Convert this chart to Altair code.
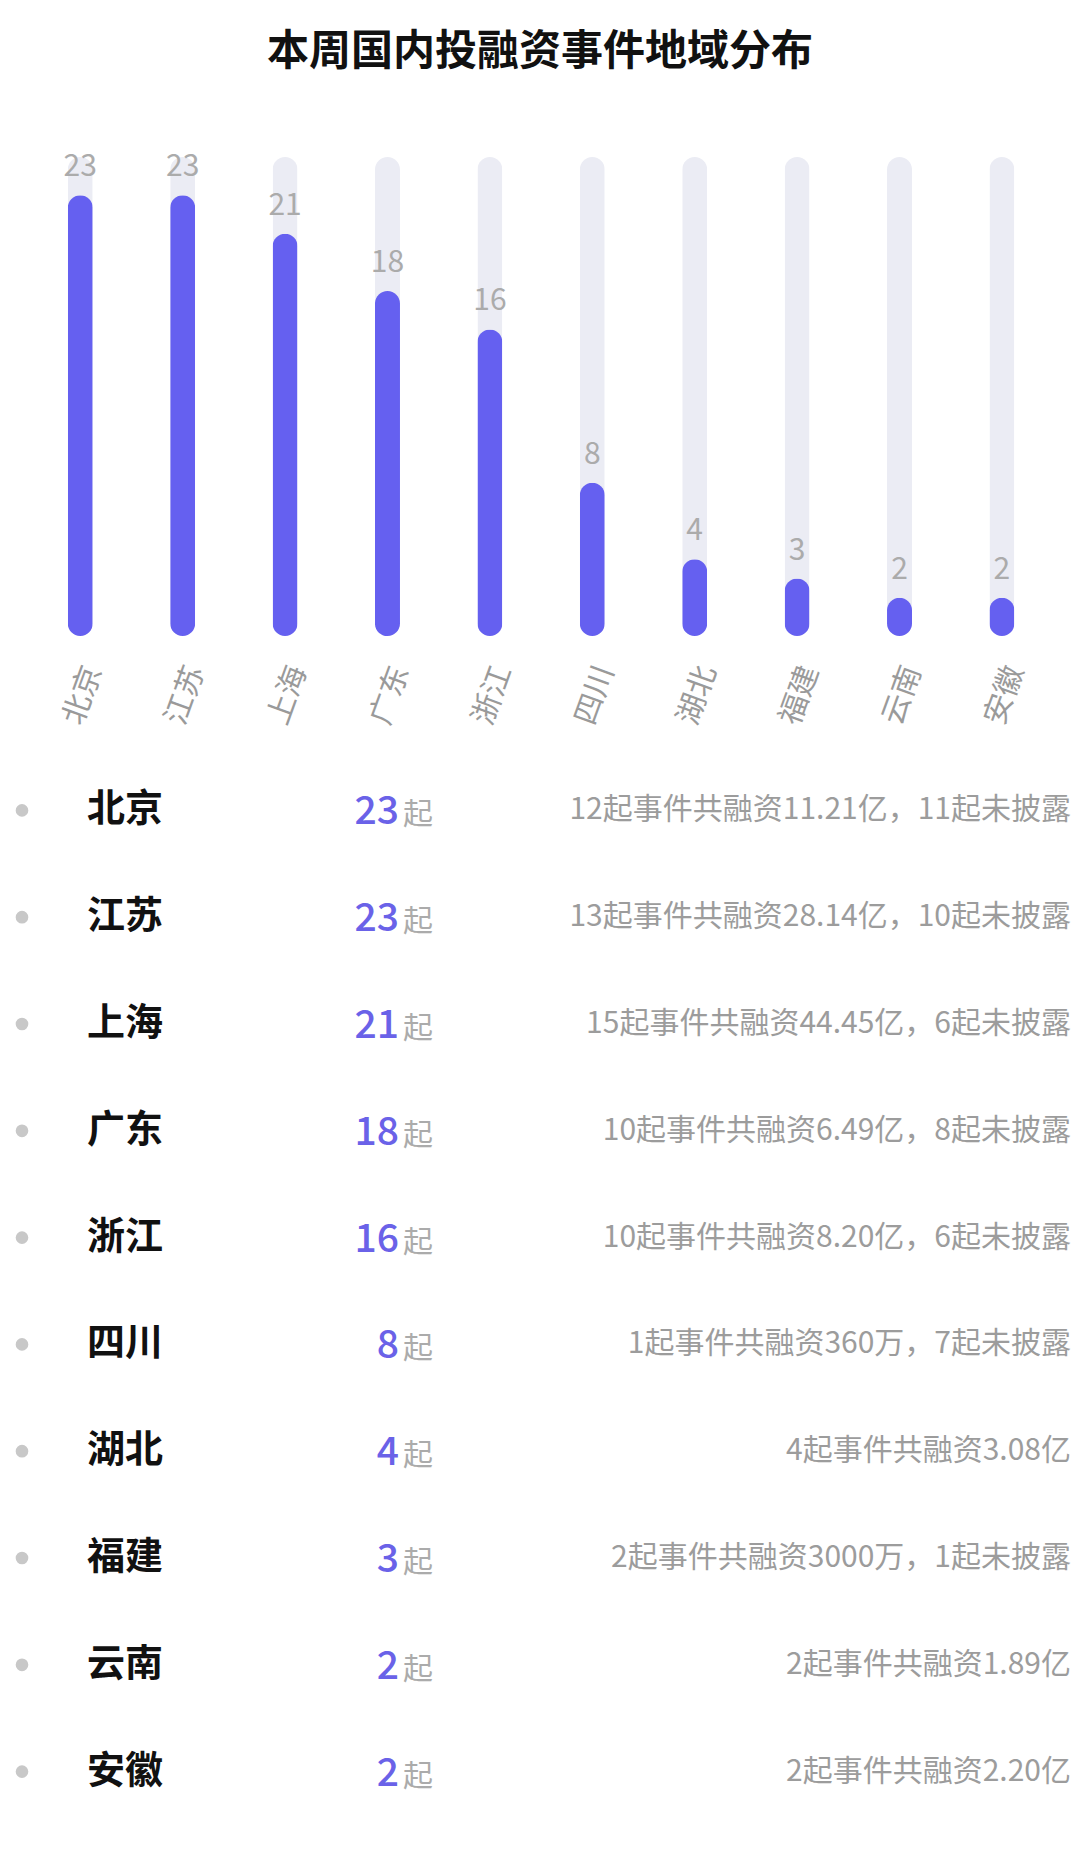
import altair as alt
import pandas as pd

provinces = ["北京", "江苏", "上海", "广东", "浙江", "四川", "湖北", "福建", "云南", "安徽"]
counts = [23, 23, 21, 18, 16, 8, 4, 3, 2, 2]
details = [
    "12起事件共融资11.21亿，11起未披露",
    "13起事件共融资28.14亿，10起未披露",
    "15起事件共融资44.45亿，6起未披露",
    "10起事件共融资6.49亿，8起未披露",
    "10起事件共融资8.20亿，6起未披露",
    "1起事件共融资360万，7起未披露",
    "4起事件共融资3.08亿",
    "2起事件共融资3000万，1起未披露",
    "2起事件共融资1.89亿",
    "2起事件共融资2.20亿",
]
track_max = 25
title_text = "本周国内投融资事件地域分布"
unit_text = "起"

df = pd.DataFrame({
    "province": provinces,
    "count": counts,
    "detail": details,
    "track": [track_max] * len(provinces),
})

FONT = "Noto Sans CJK SC"
BAR = "#6560F0"
TRACK = "#EBECF4"
W = 1064

xenc = alt.X(
    "province:N",
    sort=provinces,
    scale=alt.Scale(paddingInner=0.5, paddingOuter=0.445, align=0.512),
    axis=alt.Axis(
        title=None, labelAngle=-70, labelAlign="center", labelBaseline="middle",
        labelPadding=59, ticks=False, domain=False, labelFontSize=30,
        labelColor="#9a9a9a", labelFont=FONT, labelOverlap=False, labelOffset=3,
        grid=False,
    ),
)
yscale = alt.Scale(domain=[0, track_max])

base = alt.Chart(df)
track = base.mark_bar(color=TRACK, size=25, cornerRadius=12.5).encode(
    x=xenc, y=alt.Y("track:Q", scale=yscale, axis=None)
)
bars = base.mark_bar(color=BAR, size=25, cornerRadius=12.5).encode(
    x=xenc, y=alt.Y("count:Q", scale=yscale, axis=None)
)
vals = base.mark_text(baseline="alphabetic", dy=-19, fontSize=30, color="#ababab", font=FONT).encode(
    x=xenc, y=alt.Y("count:Q", scale=yscale, axis=None), text="count:Q"
)
bar_chart = alt.layer(track, bars, vals).properties(width=W, height=479)

yl = alt.Y("province:N", sort=provinces, axis=None, scale=alt.Scale(padding=0.5))
dots = base.mark_circle(size=160, color="#c8c8c8", opacity=1).encode(x=alt.value(14), y=yl)
names = base.mark_text(align="left", baseline="middle", fontSize=38, fontWeight="bold",
                       color="#111111", font=FONT).encode(x=alt.value(79), y=yl, text="province:N")
nums = base.mark_text(align="right", baseline="alphabetic", dy=14, fontSize=39, fontWeight=500,
                      color="#6A62E8", font=FONT).encode(x=alt.value(391), y=yl, text="count:Q")
units = base.mark_text(align="left", baseline="alphabetic", dy=14, fontSize=30,
                       color="#ababab", font=FONT, text=unit_text).encode(x=alt.value(395), y=yl)
descs = base.mark_text(align="right", baseline="middle", fontSize=30,
                       color="#9c9c9c", font=FONT).encode(x=alt.value(W - 1), y=yl, text="detail:N")
list_chart = alt.layer(dots, names, nums, units, descs).properties(width=W, height=1068)

chart = alt.vconcat(bar_chart, list_chart, spacing=28).properties(
    title=alt.TitleParams(title_text, anchor="middle", fontSize=42, fontWeight="bold",
                          font=FONT, color="#111111", offset=78),
    padding={"top": 23, "left": 0, "right": 0, "bottom": 0},
    background="white",
).configure_view(strokeWidth=0)

chart.save("out.html", embed_options={"renderer": "svg", "actions": False})
